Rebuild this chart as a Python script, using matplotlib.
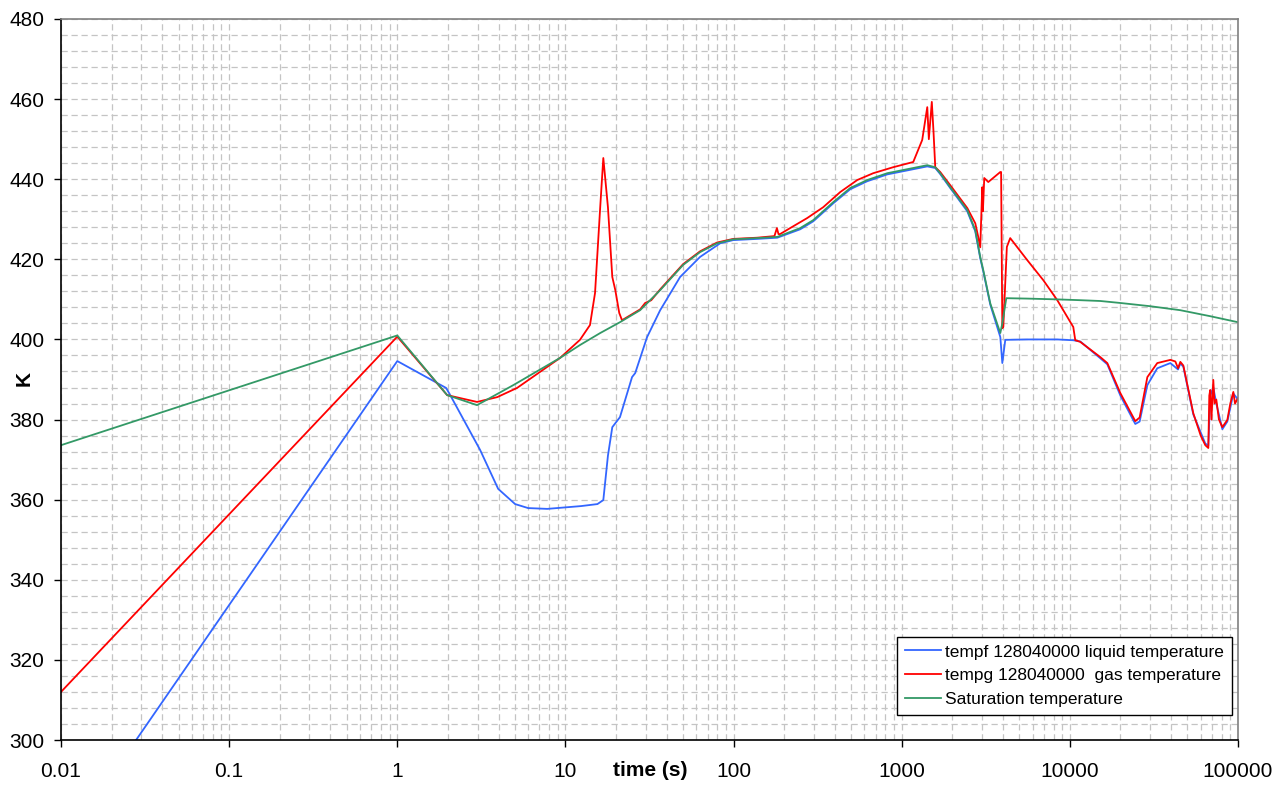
import matplotlib
matplotlib.use('Agg')
import matplotlib.pyplot as plt
from matplotlib.ticker import MultipleLocator, LogLocator, FixedLocator, FixedFormatter, NullFormatter

plt.rcParams['font.family'] = ['Liberation Sans', 'DejaVu Sans']

# ---------------- data ----------------
liq_t = [0.01, 1, 1.95, 2.04, 3.11, 3.98, 5.02, 6.0, 7.8, 12.4, 15.5, 16.8, 17.9, 19.0,
         21.1, 24.9, 26.0, 30.6, 36.6, 48.1, 63.2, 83.2, 99.5, 138, 182, 249, 298, 392,
         494, 624, 820, 1079, 1419, 1583, 1694, 1944, 2455, 2738, 2931, 3055, 3363,
         3858, 3966, 4130, 5580, 8420, 10480, 11530, 15170, 16700, 19970, 24500, 26000,
         28900, 33100, 39600, 44000, 45400, 47300, 54200, 63900, 66600, 68400, 71300,
         74300, 80700, 86400, 93800, 100000]
liq_T = [272.8, 394.6, 387.9, 386.5, 372.4, 362.7, 358.9, 357.9, 357.7, 358.4, 358.9, 359.9,
         371.0, 378.1, 380.6, 390.6, 391.6, 400.6, 407.3, 415.6, 420.6, 424.0, 424.8, 425.1,
         425.4, 427.5, 429.5, 434.0, 437.5, 439.5, 441.2, 442.2, 443.2, 442.8, 441.3, 437.8,
         432.0, 427.0, 420.3, 417.0, 408.7, 400.6, 394.1, 399.9, 400.0, 400.0, 399.8, 399.5,
         395.3, 393.8, 386.0, 378.9, 379.5, 388.6, 392.8, 394.1, 392.5, 394.0, 393.2, 381.3,
         374.0, 373.5, 386.0, 388.0, 384.0, 377.6, 379.5, 386.5, 385.0]

gas_t = [0.01, 1, 1.98, 2.98, 3.93, 5.16, 9.3, 12.2, 14.0, 15.0, 16.1, 16.8, 17.9, 19.0,
         19.8, 20.9, 21.7, 27.8, 29.8, 32.4, 36.6, 50.1, 63.2, 79.8, 99.5, 138, 175, 181,
         185, 189, 217, 274, 341, 431, 544, 677, 890, 1171, 1324, 1419, 1450, 1510, 1545,
         1583, 1694, 1944, 2455, 2738, 2852, 2931, 3013, 3040, 3097, 3272, 3858, 3900,
         3966, 4020, 4220, 4419, 5580, 6950, 8420, 9660, 10480, 10770, 11530, 15170,
         16700, 19970, 24500, 26000, 28900, 33100, 39600, 42400, 44000, 45400, 47300,
         54200, 60000, 63900, 66600, 67500, 68400, 69500, 71300, 72500, 74300, 77000,
         80700, 86400, 90000, 93800, 96000, 100000]
gas_T = [312.0, 400.7, 386.1, 384.4, 385.6, 387.9, 395.4, 399.9, 403.6, 411.6, 433.0, 445.3,
         433.0, 415.6, 412.3, 406.6, 404.8, 407.5, 409.1, 409.8, 412.5, 418.8, 422.0, 424.2,
         425.1, 425.4, 425.8, 427.8, 426.3, 426.3, 427.8, 430.3, 433.0, 436.8, 439.8, 441.5,
         443.0, 444.3, 449.8, 458.0, 450.0, 459.3, 452.0, 443.0, 441.8, 438.5, 432.8, 429.0,
         425.6, 423.0, 438.0, 432.0, 440.3, 439.3, 441.8, 441.8, 402.8, 403.2, 423.1, 425.3,
         419.8, 414.8, 409.8, 405.6, 403.1, 399.8, 399.4, 395.6, 394.1, 386.6, 379.6, 380.5,
         390.6, 394.1, 394.9, 394.5, 392.8, 394.4, 393.5, 381.6, 376.0, 373.6, 372.9, 386.0,
         387.4, 380.0, 389.9, 384.0, 385.0, 380.0, 378.1, 379.9, 384.0, 386.9, 384.0, 385.4]

sat_t = [0.01, 1, 1.98, 2.98, 4.9, 9.3, 12.2, 16.1, 21.1, 27.8, 36.6, 50.1, 63.2, 79.8,
         99.5, 138, 182, 249, 298, 392, 494, 624, 820, 1079, 1419, 1583, 1694, 1944, 2455,
         2738, 2931, 3055, 3363, 3858, 3966, 4188, 5580, 8420, 11530, 15170, 20000, 30000,
         45400, 68400, 100000]
sat_T = [373.6, 401.0, 386.1, 383.6, 388.6, 395.4, 398.6, 401.6, 404.3, 407.3, 412.3, 418.6,
         421.8, 424.0, 425.0, 425.3, 425.6, 427.8, 429.8, 434.3, 437.8, 439.8, 441.5, 442.5,
         443.5, 443.0, 441.5, 438.0, 432.3, 427.3, 420.6, 417.3, 409.0, 401.6, 404.0, 410.3,
         410.2, 410.0, 409.8, 409.6, 409.1, 408.3, 407.3, 405.8, 404.3]

labels = ['tempf 128040000 liquid temperature',
          'tempg 128040000  gas temperature',
          'Saturation temperature']
x_ticks = [0.01, 0.1, 1, 10, 100, 1000, 10000, 100000]
x_ticklabels = ['0.01', '0.1', '1', '10', '100', '1000', '10000', '100000']
y_ticks = [300, 320, 340, 360, 380, 400, 420, 440, 460, 480]

# ---------------- figure ----------------
fig = plt.figure(figsize=(12.88, 7.85), dpi=100)
ax = fig.add_axes([61/1288, 45/785, 1177/1288, 721/785])

ax.plot(liq_t, liq_T, color='#3366FF', lw=1.3, label=labels[0])
ax.plot(gas_t, gas_T, color='#FF0000', lw=1.3, label=labels[1])
ax.plot(sat_t, sat_T, color='#339966', lw=1.3, label=labels[2])

ax.set_xscale('log')
ax.set_xlim(0.01, 100000)
ax.set_ylim(300, 480)

ax.xaxis.set_major_locator(FixedLocator(x_ticks))
ax.xaxis.set_major_formatter(FixedFormatter(x_ticklabels))
ax.xaxis.set_minor_locator(LogLocator(base=10, subs=[2, 3, 4, 5, 6, 7, 8, 9], numticks=20))
ax.xaxis.set_minor_formatter(NullFormatter())
ax.yaxis.set_major_locator(FixedLocator(y_ticks))
ax.yaxis.set_minor_locator(MultipleLocator(4))

grid_kw = dict(color='#c4c4c4', lw=0.9, linestyle=(0, (5, 3)))
ax.grid(True, which='both', axis='both', **grid_kw)
ax.set_axisbelow(True)

for s in ['left', 'bottom']:
    ax.spines[s].set_color('#000000')
    ax.spines[s].set_linewidth(1.2)
for s in ['top', 'right']:
    ax.spines[s].set_color('#808080')
    ax.spines[s].set_linewidth(1.2)

ax.tick_params(axis='both', which='major', direction='out', length=5, width=1.0,
               labelsize=15, colors='black')
ax.tick_params(axis='x', which='major', pad=11)
ax.tick_params(axis='y', which='major', pad=7)
ax.tick_params(axis='both', which='minor', length=0)

ax.text(0.5004, -(771 - 740) / 721, 'time (s)', transform=ax.transAxes, ha='center',
        va='center', fontsize=15, fontweight='bold')
fig.text(24/1288, 1 - 379/785, 'K', rotation=90, ha='center', va='center',
         fontsize=15, fontweight='bold')

leg = ax.legend(loc='lower right', bbox_to_anchor=(0.9949, 0.0347), borderaxespad=0,
                fontsize=12.5, frameon=True, fancybox=False, framealpha=1,
                edgecolor='black', handlelength=2.1, handletextpad=0.25,
                labelspacing=0.5, borderpad=0.45)
leg.get_frame().set_linewidth(1.0)

fig.savefig('out.png', dpi=100)
